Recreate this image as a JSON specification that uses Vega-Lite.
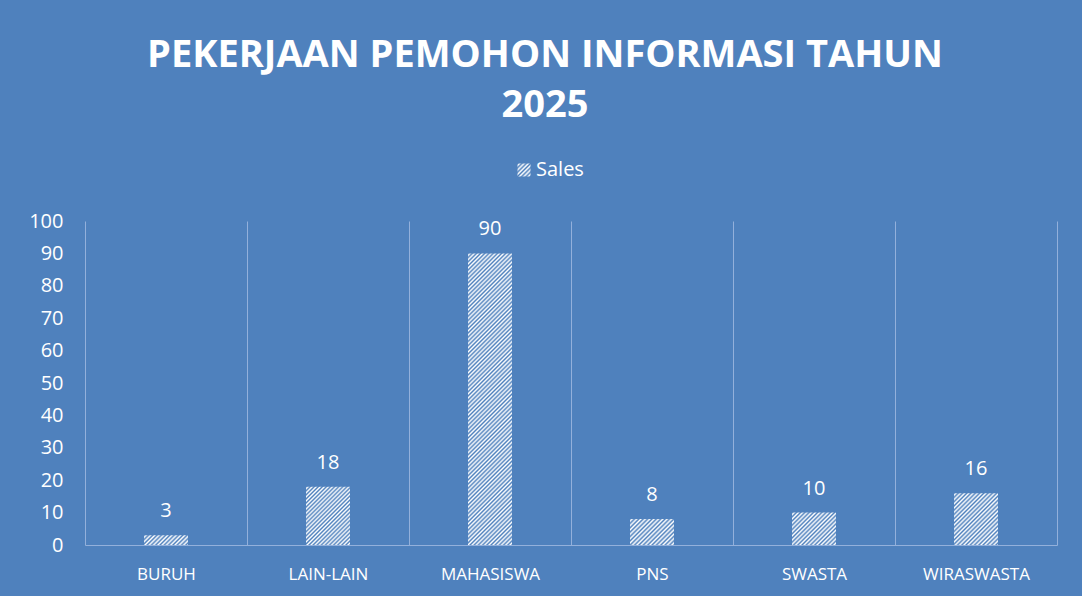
{
  "$schema": "https://vega.github.io/schema/vega-lite/v6.json",
  "width": 972,
  "height": 324,
  "autosize": {"type": "none"},
  "padding": {"left": 85, "top": 221, "right": 25, "bottom": 51},
  "background": "#4f81bd",
  "config": {"view": {"stroke": null}, "font": "Open Sans"},
  "title": {
    "text": ["PEKERJAAN PEMOHON INFORMASI TAHUN", "2025"],
    "color": "#ffffff",
    "font": "Open Sans",
    "fontSize": 38,
    "fontWeight": "bold",
    "lineHeight": 50,
    "anchor": "middle",
    "dx": -26,
    "offset": 35
  },
  "data": {
    "values": [
      {"pekerjaan": "BURUH", "jumlah": 3},
      {"pekerjaan": "LAIN-LAIN", "jumlah": 18},
      {"pekerjaan": "MAHASISWA", "jumlah": 90},
      {"pekerjaan": "PNS", "jumlah": 8},
      {"pekerjaan": "SWASTA", "jumlah": 10},
      {"pekerjaan": "WIRASWASTA", "jumlah": 16}
    ]
  },
  "encoding": {
    "x": {
      "field": "pekerjaan",
      "type": "nominal",
      "sort": null,
      "scale": {
        "domain": ["BURUH", "LAIN-LAIN", "MAHASISWA", "PNS", "SWASTA", "WIRASWASTA"],
        "paddingInner": 0,
        "paddingOuter": 0
      },
      "axis": {
        "title": null,
        "labelAngle": 0,
        "labelColor": "#ffffff",
        "labelFont": "Open Sans",
        "labelFontSize": 17,
        "labelPadding": 21,
        "ticks": false,
        "domain": true,
        "domainColor": "#93b0db",
        "domainWidth": 1,
        "grid": true,
        "gridColor": "#93b0db",
        "gridWidth": 1,
        "tickBand": "extent"
      }
    },
    "y": {
      "field": "jumlah",
      "type": "quantitative",
      "scale": {"domain": [0, 100], "nice": false},
      "axis": {
        "title": null,
        "values": [0, 10, 20, 30, 40, 50, 60, 70, 80, 90, 100],
        "labelColor": "#ffffff",
        "labelFont": "Open Sans",
        "labelFontSize": 20,
        "labelPadding": 22,
        "ticks": false,
        "domain": false,
        "grid": false
      }
    }
  },
  "layer": [
    {
      "transform": [{"filter": "datum.pekerjaan === 'BURUH'"}],
      "mark": {"type": "bar", "width": {"band": 0.2716}, "fill": {"gradient": "linear", "x1": 0, "y1": 0, "x2": 1.1641, "y2": 0.2572, "stops": [
        {"offset": 0, "color": "#4f81bd"}, {"offset": 0.04, "color": "#ffffff"}, {"offset": 0.08, "color": "#4f81bd"}, {"offset": 0.12, "color": "#ffffff"}, {"offset": 0.16, "color": "#4f81bd"}, {"offset": 0.2, "color": "#ffffff"}, {"offset": 0.24, "color": "#4f81bd"}, {"offset": 0.28, "color": "#ffffff"}, {"offset": 0.32, "color": "#4f81bd"}, {"offset": 0.36, "color": "#ffffff"}, {"offset": 0.4, "color": "#4f81bd"}, {"offset": 0.44, "color": "#ffffff"}, {"offset": 0.48, "color": "#4f81bd"}, {"offset": 0.52, "color": "#ffffff"}, {"offset": 0.56, "color": "#4f81bd"}, {"offset": 0.6, "color": "#ffffff"}, {"offset": 0.64, "color": "#4f81bd"}, {"offset": 0.68, "color": "#ffffff"}, {"offset": 0.72, "color": "#4f81bd"}, {"offset": 0.76, "color": "#ffffff"}, {"offset": 0.8, "color": "#4f81bd"}, {"offset": 0.84, "color": "#ffffff"}, {"offset": 0.88, "color": "#4f81bd"}, {"offset": 0.92, "color": "#ffffff"}, {"offset": 0.96, "color": "#4f81bd"}, {"offset": 1, "color": "#ffffff"}
      ]}}
    },
    {
      "transform": [{"filter": "datum.pekerjaan === 'LAIN-LAIN'"}],
      "mark": {"type": "bar", "width": {"band": 0.2716}, "fill": {"gradient": "linear", "x1": 0, "y1": 0, "x2": 0.8435, "y2": 1.1181, "stops": [
        {"offset": 0, "color": "#4f81bd"}, {"offset": 0.02, "color": "#ffffff"}, {"offset": 0.04, "color": "#4f81bd"}, {"offset": 0.06, "color": "#ffffff"}, {"offset": 0.08, "color": "#4f81bd"}, {"offset": 0.1, "color": "#ffffff"}, {"offset": 0.12, "color": "#4f81bd"}, {"offset": 0.14, "color": "#ffffff"}, {"offset": 0.16, "color": "#4f81bd"}, {"offset": 0.18, "color": "#ffffff"}, {"offset": 0.2, "color": "#4f81bd"}, {"offset": 0.22, "color": "#ffffff"}, {"offset": 0.24, "color": "#4f81bd"}, {"offset": 0.26, "color": "#ffffff"}, {"offset": 0.28, "color": "#4f81bd"}, {"offset": 0.3, "color": "#ffffff"}, {"offset": 0.32, "color": "#4f81bd"}, {"offset": 0.34, "color": "#ffffff"}, {"offset": 0.36, "color": "#4f81bd"}, {"offset": 0.38, "color": "#ffffff"}, {"offset": 0.4, "color": "#4f81bd"}, {"offset": 0.42, "color": "#ffffff"}, {"offset": 0.44, "color": "#4f81bd"}, {"offset": 0.46, "color": "#ffffff"}, {"offset": 0.48, "color": "#4f81bd"}, {"offset": 0.5, "color": "#ffffff"}, {"offset": 0.52, "color": "#4f81bd"}, {"offset": 0.54, "color": "#ffffff"}, {"offset": 0.56, "color": "#4f81bd"}, {"offset": 0.58, "color": "#ffffff"}, {"offset": 0.6, "color": "#4f81bd"}, {"offset": 0.62, "color": "#ffffff"}, {"offset": 0.64, "color": "#4f81bd"}, {"offset": 0.66, "color": "#ffffff"}, {"offset": 0.68, "color": "#4f81bd"}, {"offset": 0.7, "color": "#ffffff"}, {"offset": 0.72, "color": "#4f81bd"}, {"offset": 0.74, "color": "#ffffff"}, {"offset": 0.76, "color": "#4f81bd"}, {"offset": 0.78, "color": "#ffffff"}, {"offset": 0.8, "color": "#4f81bd"}, {"offset": 0.82, "color": "#ffffff"}, {"offset": 0.84, "color": "#4f81bd"}, {"offset": 0.86, "color": "#ffffff"}, {"offset": 0.88, "color": "#4f81bd"}, {"offset": 0.9, "color": "#ffffff"}, {"offset": 0.92, "color": "#4f81bd"}, {"offset": 0.94, "color": "#ffffff"}, {"offset": 0.96, "color": "#4f81bd"}, {"offset": 0.98, "color": "#ffffff"}, {"offset": 1, "color": "#4f81bd"}
      ]}}
    },
    {
      "transform": [{"filter": "datum.pekerjaan === 'MAHASISWA'"}],
      "mark": {"type": "bar", "width": {"band": 0.2716}, "fill": {"gradient": "linear", "x1": 0, "y1": 0, "x2": 0.1698, "y2": 1.1253, "stops": [
        {"offset": 0, "color": "#4f81bd"}, {"offset": 0.00625, "color": "#ffffff"}, {"offset": 0.0125, "color": "#4f81bd"}, {"offset": 0.01875, "color": "#ffffff"}, {"offset": 0.025, "color": "#4f81bd"}, {"offset": 0.03125, "color": "#ffffff"}, {"offset": 0.0375, "color": "#4f81bd"}, {"offset": 0.04375, "color": "#ffffff"}, {"offset": 0.05, "color": "#4f81bd"}, {"offset": 0.05625, "color": "#ffffff"}, {"offset": 0.0625, "color": "#4f81bd"}, {"offset": 0.06875, "color": "#ffffff"}, {"offset": 0.075, "color": "#4f81bd"}, {"offset": 0.08125, "color": "#ffffff"}, {"offset": 0.0875, "color": "#4f81bd"}, {"offset": 0.09375, "color": "#ffffff"},
        {"offset": 0.1, "color": "#4f81bd"}, {"offset": 0.10625, "color": "#ffffff"}, {"offset": 0.1125, "color": "#4f81bd"}, {"offset": 0.11875, "color": "#ffffff"}, {"offset": 0.125, "color": "#4f81bd"}, {"offset": 0.13125, "color": "#ffffff"}, {"offset": 0.1375, "color": "#4f81bd"}, {"offset": 0.14375, "color": "#ffffff"}, {"offset": 0.15, "color": "#4f81bd"}, {"offset": 0.15625, "color": "#ffffff"}, {"offset": 0.1625, "color": "#4f81bd"}, {"offset": 0.16875, "color": "#ffffff"}, {"offset": 0.175, "color": "#4f81bd"}, {"offset": 0.18125, "color": "#ffffff"}, {"offset": 0.1875, "color": "#4f81bd"}, {"offset": 0.19375, "color": "#ffffff"},
        {"offset": 0.2, "color": "#4f81bd"}, {"offset": 0.20625, "color": "#ffffff"}, {"offset": 0.2125, "color": "#4f81bd"}, {"offset": 0.21875, "color": "#ffffff"}, {"offset": 0.225, "color": "#4f81bd"}, {"offset": 0.23125, "color": "#ffffff"}, {"offset": 0.2375, "color": "#4f81bd"}, {"offset": 0.24375, "color": "#ffffff"}, {"offset": 0.25, "color": "#4f81bd"}, {"offset": 0.25625, "color": "#ffffff"}, {"offset": 0.2625, "color": "#4f81bd"}, {"offset": 0.26875, "color": "#ffffff"}, {"offset": 0.275, "color": "#4f81bd"}, {"offset": 0.28125, "color": "#ffffff"}, {"offset": 0.2875, "color": "#4f81bd"}, {"offset": 0.29375, "color": "#ffffff"},
        {"offset": 0.3, "color": "#4f81bd"}, {"offset": 0.30625, "color": "#ffffff"}, {"offset": 0.3125, "color": "#4f81bd"}, {"offset": 0.31875, "color": "#ffffff"}, {"offset": 0.325, "color": "#4f81bd"}, {"offset": 0.33125, "color": "#ffffff"}, {"offset": 0.3375, "color": "#4f81bd"}, {"offset": 0.34375, "color": "#ffffff"}, {"offset": 0.35, "color": "#4f81bd"}, {"offset": 0.35625, "color": "#ffffff"}, {"offset": 0.3625, "color": "#4f81bd"}, {"offset": 0.36875, "color": "#ffffff"}, {"offset": 0.375, "color": "#4f81bd"}, {"offset": 0.38125, "color": "#ffffff"}, {"offset": 0.3875, "color": "#4f81bd"}, {"offset": 0.39375, "color": "#ffffff"},
        {"offset": 0.4, "color": "#4f81bd"}, {"offset": 0.40625, "color": "#ffffff"}, {"offset": 0.4125, "color": "#4f81bd"}, {"offset": 0.41875, "color": "#ffffff"}, {"offset": 0.425, "color": "#4f81bd"}, {"offset": 0.43125, "color": "#ffffff"}, {"offset": 0.4375, "color": "#4f81bd"}, {"offset": 0.44375, "color": "#ffffff"}, {"offset": 0.45, "color": "#4f81bd"}, {"offset": 0.45625, "color": "#ffffff"}, {"offset": 0.4625, "color": "#4f81bd"}, {"offset": 0.46875, "color": "#ffffff"}, {"offset": 0.475, "color": "#4f81bd"}, {"offset": 0.48125, "color": "#ffffff"}, {"offset": 0.4875, "color": "#4f81bd"}, {"offset": 0.49375, "color": "#ffffff"},
        {"offset": 0.5, "color": "#4f81bd"}, {"offset": 0.50625, "color": "#ffffff"}, {"offset": 0.5125, "color": "#4f81bd"}, {"offset": 0.51875, "color": "#ffffff"}, {"offset": 0.525, "color": "#4f81bd"}, {"offset": 0.53125, "color": "#ffffff"}, {"offset": 0.5375, "color": "#4f81bd"}, {"offset": 0.54375, "color": "#ffffff"}, {"offset": 0.55, "color": "#4f81bd"}, {"offset": 0.55625, "color": "#ffffff"}, {"offset": 0.5625, "color": "#4f81bd"}, {"offset": 0.56875, "color": "#ffffff"}, {"offset": 0.575, "color": "#4f81bd"}, {"offset": 0.58125, "color": "#ffffff"}, {"offset": 0.5875, "color": "#4f81bd"}, {"offset": 0.59375, "color": "#ffffff"},
        {"offset": 0.6, "color": "#4f81bd"}, {"offset": 0.60625, "color": "#ffffff"}, {"offset": 0.6125, "color": "#4f81bd"}, {"offset": 0.61875, "color": "#ffffff"}, {"offset": 0.625, "color": "#4f81bd"}, {"offset": 0.63125, "color": "#ffffff"}, {"offset": 0.6375, "color": "#4f81bd"}, {"offset": 0.64375, "color": "#ffffff"}, {"offset": 0.65, "color": "#4f81bd"}, {"offset": 0.65625, "color": "#ffffff"}, {"offset": 0.6625, "color": "#4f81bd"}, {"offset": 0.66875, "color": "#ffffff"}, {"offset": 0.675, "color": "#4f81bd"}, {"offset": 0.68125, "color": "#ffffff"}, {"offset": 0.6875, "color": "#4f81bd"}, {"offset": 0.69375, "color": "#ffffff"},
        {"offset": 0.7, "color": "#4f81bd"}, {"offset": 0.70625, "color": "#ffffff"}, {"offset": 0.7125, "color": "#4f81bd"}, {"offset": 0.71875, "color": "#ffffff"}, {"offset": 0.725, "color": "#4f81bd"}, {"offset": 0.73125, "color": "#ffffff"}, {"offset": 0.7375, "color": "#4f81bd"}, {"offset": 0.74375, "color": "#ffffff"}, {"offset": 0.75, "color": "#4f81bd"}, {"offset": 0.75625, "color": "#ffffff"}, {"offset": 0.7625, "color": "#4f81bd"}, {"offset": 0.76875, "color": "#ffffff"}, {"offset": 0.775, "color": "#4f81bd"}, {"offset": 0.78125, "color": "#ffffff"}, {"offset": 0.7875, "color": "#4f81bd"}, {"offset": 0.79375, "color": "#ffffff"},
        {"offset": 0.8, "color": "#4f81bd"}, {"offset": 0.80625, "color": "#ffffff"}, {"offset": 0.8125, "color": "#4f81bd"}, {"offset": 0.81875, "color": "#ffffff"}, {"offset": 0.825, "color": "#4f81bd"}, {"offset": 0.83125, "color": "#ffffff"}, {"offset": 0.8375, "color": "#4f81bd"}, {"offset": 0.84375, "color": "#ffffff"}, {"offset": 0.85, "color": "#4f81bd"}, {"offset": 0.85625, "color": "#ffffff"}, {"offset": 0.8625, "color": "#4f81bd"}, {"offset": 0.86875, "color": "#ffffff"}, {"offset": 0.875, "color": "#4f81bd"}, {"offset": 0.88125, "color": "#ffffff"}, {"offset": 0.8875, "color": "#4f81bd"}, {"offset": 0.89375, "color": "#ffffff"},
        {"offset": 0.9, "color": "#4f81bd"}, {"offset": 0.90625, "color": "#ffffff"}, {"offset": 0.9125, "color": "#4f81bd"}, {"offset": 0.91875, "color": "#ffffff"}, {"offset": 0.925, "color": "#4f81bd"}, {"offset": 0.93125, "color": "#ffffff"}, {"offset": 0.9375, "color": "#4f81bd"}, {"offset": 0.94375, "color": "#ffffff"}, {"offset": 0.95, "color": "#4f81bd"}, {"offset": 0.95625, "color": "#ffffff"}, {"offset": 0.9625, "color": "#4f81bd"}, {"offset": 0.96875, "color": "#ffffff"}, {"offset": 0.975, "color": "#4f81bd"}, {"offset": 0.98125, "color": "#ffffff"}, {"offset": 0.9875, "color": "#4f81bd"}, {"offset": 0.99375, "color": "#ffffff"},
        {"offset": 1, "color": "#4f81bd"}
      ]}}
    },
    {
      "transform": [{"filter": "datum.pekerjaan === 'PNS'"}],
      "mark": {"type": "bar", "width": {"band": 0.2716}, "fill": {"gradient": "linear", "x1": 0, "y1": 0, "x2": 1.1797, "y2": 0.695, "stops": [
        {"offset": 0, "color": "#4f81bd"}, {"offset": 0.03125, "color": "#ffffff"}, {"offset": 0.0625, "color": "#4f81bd"}, {"offset": 0.09375, "color": "#ffffff"}, {"offset": 0.125, "color": "#4f81bd"}, {"offset": 0.15625, "color": "#ffffff"}, {"offset": 0.1875, "color": "#4f81bd"}, {"offset": 0.21875, "color": "#ffffff"}, {"offset": 0.25, "color": "#4f81bd"}, {"offset": 0.28125, "color": "#ffffff"}, {"offset": 0.3125, "color": "#4f81bd"}, {"offset": 0.34375, "color": "#ffffff"}, {"offset": 0.375, "color": "#4f81bd"}, {"offset": 0.40625, "color": "#ffffff"}, {"offset": 0.4375, "color": "#4f81bd"}, {"offset": 0.46875, "color": "#ffffff"}, {"offset": 0.5, "color": "#4f81bd"}, {"offset": 0.53125, "color": "#ffffff"}, {"offset": 0.5625, "color": "#4f81bd"}, {"offset": 0.59375, "color": "#ffffff"}, {"offset": 0.625, "color": "#4f81bd"}, {"offset": 0.65625, "color": "#ffffff"}, {"offset": 0.6875, "color": "#4f81bd"}, {"offset": 0.71875, "color": "#ffffff"}, {"offset": 0.75, "color": "#4f81bd"}, {"offset": 0.78125, "color": "#ffffff"}, {"offset": 0.8125, "color": "#4f81bd"}, {"offset": 0.84375, "color": "#ffffff"}, {"offset": 0.875, "color": "#4f81bd"}, {"offset": 0.90625, "color": "#ffffff"}, {"offset": 0.9375, "color": "#4f81bd"}, {"offset": 0.96875, "color": "#ffffff"}, {"offset": 1, "color": "#4f81bd"}
      ]}}
    },
    {
      "transform": [{"filter": "datum.pekerjaan === 'SWASTA'"}],
      "mark": {"type": "bar", "width": {"band": 0.2716}, "fill": {"gradient": "linear", "x1": 0, "y1": 0, "x2": 1.1259, "y2": 0.8291, "stops": [
        {"offset": 0, "color": "#4f81bd"}, {"offset": 0.0278, "color": "#ffffff"}, {"offset": 0.0556, "color": "#4f81bd"}, {"offset": 0.0833, "color": "#ffffff"}, {"offset": 0.1111, "color": "#4f81bd"}, {"offset": 0.1389, "color": "#ffffff"}, {"offset": 0.1667, "color": "#4f81bd"}, {"offset": 0.1944, "color": "#ffffff"}, {"offset": 0.2222, "color": "#4f81bd"}, {"offset": 0.25, "color": "#ffffff"}, {"offset": 0.2778, "color": "#4f81bd"}, {"offset": 0.3056, "color": "#ffffff"}, {"offset": 0.3333, "color": "#4f81bd"}, {"offset": 0.3611, "color": "#ffffff"}, {"offset": 0.3889, "color": "#4f81bd"}, {"offset": 0.4167, "color": "#ffffff"}, {"offset": 0.4444, "color": "#4f81bd"}, {"offset": 0.4722, "color": "#ffffff"}, {"offset": 0.5, "color": "#4f81bd"}, {"offset": 0.5278, "color": "#ffffff"}, {"offset": 0.5556, "color": "#4f81bd"}, {"offset": 0.5833, "color": "#ffffff"}, {"offset": 0.6111, "color": "#4f81bd"}, {"offset": 0.6389, "color": "#ffffff"}, {"offset": 0.6667, "color": "#4f81bd"}, {"offset": 0.6944, "color": "#ffffff"}, {"offset": 0.7222, "color": "#4f81bd"}, {"offset": 0.75, "color": "#ffffff"}, {"offset": 0.7778, "color": "#4f81bd"}, {"offset": 0.8056, "color": "#ffffff"}, {"offset": 0.8333, "color": "#4f81bd"}, {"offset": 0.8611, "color": "#ffffff"}, {"offset": 0.8889, "color": "#4f81bd"}, {"offset": 0.9167, "color": "#ffffff"}, {"offset": 0.9444, "color": "#4f81bd"}, {"offset": 0.9722, "color": "#ffffff"}, {"offset": 1, "color": "#4f81bd"}
      ]}}
    },
    {
      "transform": [{"filter": "datum.pekerjaan === 'WIRASWASTA'"}],
      "mark": {"type": "bar", "width": {"band": 0.2716}, "fill": {"gradient": "linear", "x1": 0, "y1": 0, "x2": 0.9121, "y2": 1.0746, "stops": [
        {"offset": 0, "color": "#4f81bd"}, {"offset": 0.0222, "color": "#ffffff"}, {"offset": 0.0444, "color": "#4f81bd"}, {"offset": 0.0667, "color": "#ffffff"}, {"offset": 0.0889, "color": "#4f81bd"}, {"offset": 0.1111, "color": "#ffffff"}, {"offset": 0.1333, "color": "#4f81bd"}, {"offset": 0.1556, "color": "#ffffff"}, {"offset": 0.1778, "color": "#4f81bd"}, {"offset": 0.2, "color": "#ffffff"}, {"offset": 0.2222, "color": "#4f81bd"}, {"offset": 0.2444, "color": "#ffffff"}, {"offset": 0.2667, "color": "#4f81bd"}, {"offset": 0.2889, "color": "#ffffff"}, {"offset": 0.3111, "color": "#4f81bd"}, {"offset": 0.3333, "color": "#ffffff"}, {"offset": 0.3556, "color": "#4f81bd"}, {"offset": 0.3778, "color": "#ffffff"}, {"offset": 0.4, "color": "#4f81bd"}, {"offset": 0.4222, "color": "#ffffff"}, {"offset": 0.4444, "color": "#4f81bd"}, {"offset": 0.4667, "color": "#ffffff"}, {"offset": 0.4889, "color": "#4f81bd"}, {"offset": 0.5111, "color": "#ffffff"}, {"offset": 0.5333, "color": "#4f81bd"}, {"offset": 0.5556, "color": "#ffffff"}, {"offset": 0.5778, "color": "#4f81bd"}, {"offset": 0.6, "color": "#ffffff"}, {"offset": 0.6222, "color": "#4f81bd"}, {"offset": 0.6444, "color": "#ffffff"}, {"offset": 0.6667, "color": "#4f81bd"}, {"offset": 0.6889, "color": "#ffffff"}, {"offset": 0.7111, "color": "#4f81bd"}, {"offset": 0.7333, "color": "#ffffff"}, {"offset": 0.7556, "color": "#4f81bd"}, {"offset": 0.7778, "color": "#ffffff"}, {"offset": 0.8, "color": "#4f81bd"}, {"offset": 0.8222, "color": "#ffffff"}, {"offset": 0.8444, "color": "#4f81bd"}, {"offset": 0.8667, "color": "#ffffff"}, {"offset": 0.8889, "color": "#4f81bd"}, {"offset": 0.9111, "color": "#ffffff"}, {"offset": 0.9333, "color": "#4f81bd"}, {"offset": 0.9556, "color": "#ffffff"}, {"offset": 0.9778, "color": "#4f81bd"}, {"offset": 1, "color": "#ffffff"}
      ]}}
    },
    {
      "mark": {"type": "point", "filled": true, "size": 0, "fill": {"gradient": "linear", "x1": 0, "y1": 0, "x2": 1, "y2": 1, "stops": [
        {"offset": 0, "color": "#4f81bd"}, {"offset": 0.0833, "color": "#ffffff"}, {"offset": 0.1667, "color": "#4f81bd"}, {"offset": 0.25, "color": "#ffffff"}, {"offset": 0.3333, "color": "#4f81bd"}, {"offset": 0.4167, "color": "#ffffff"}, {"offset": 0.5, "color": "#4f81bd"}, {"offset": 0.5833, "color": "#ffffff"}, {"offset": 0.6667, "color": "#4f81bd"}, {"offset": 0.75, "color": "#ffffff"}, {"offset": 0.8333, "color": "#4f81bd"}, {"offset": 0.9167, "color": "#ffffff"}, {"offset": 1, "color": "#4f81bd"}
      ]}},
      "encoding": {
        "shape": {
          "datum": "Sales",
          "type": "nominal",
          "scale": {"range": ["square"]},
          "legend": {
            "title": null,
            "orient": "none",
            "legendX": 429,
            "legendY": -61,
            "padding": 0,
            "symbolSize": 169,
            "symbolStrokeWidth": 0,
            "symbolOpacity": 1,
            "labelColor": "#ffffff",
            "labelFont": "Open Sans",
            "labelFontSize": 20,
            "labelOffset": 2
          }
        }
      }
    },
    {
      "mark": {"type": "text", "font": "Open Sans", "fontSize": 20, "baseline": "middle", "dy": -24, "color": "#ffffff"},
      "encoding": {
        "text": {"field": "jumlah", "type": "quantitative"}
      }
    }
  ]
}
